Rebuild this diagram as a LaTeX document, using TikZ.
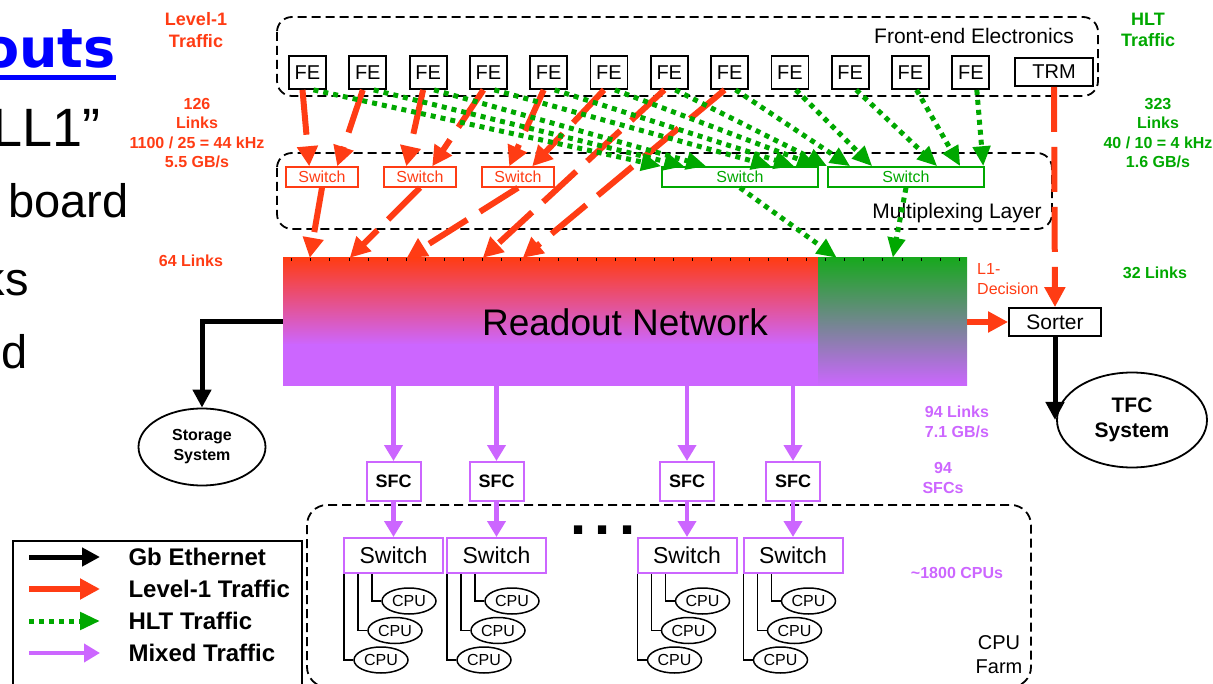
\documentclass[tikz,border=0pt]{standalone}
\usepackage{fontspec}
\setmainfont{Liberation Sans}
\newfontfamily\slidefont{DejaVu Sans}
\usetikzlibrary{arrows.meta}
\usetikzlibrary{calc,positioning}
\usetikzlibrary{shapes.geometric}

\definecolor{lumred}{RGB}{255,60,20}
\definecolor{hltgreen}{RGB}{0,168,0}
\definecolor{ropgreen}{RGB}{24,168,30}
\definecolor{mixpurp}{RGB}{204,102,255}

\begin{document}
\begin{tikzpicture}[x=1pt, y=-1pt,
    grp/.style={line width=1.8pt, dash pattern=on 9pt off 5pt, rounded corners=15pt},
    fe/.style={draw, line width=1.8pt, minimum width=37pt, minimum height=33pt, inner sep=0pt, font=\fontsize{20}{24}\selectfont},
    l1sw/.style={draw=lumred, text=lumred, line width=1.5pt, minimum width=72pt, minimum height=20pt, inner sep=0pt, font=\fontsize{16}{18}\selectfont},
    hltsw/.style={draw=hltgreen, text=hltgreen, line width=1.5pt, minimum width=156pt, minimum height=20pt, inner sep=0pt, font=\fontsize{16}{18}\selectfont},
    sfc/.style={draw=mixpurp, line width=2pt, minimum width=54pt, minimum height=39pt, inner sep=0pt, font=\bfseries\fontsize{18}{20}\selectfont},
    farmsw/.style={draw=mixpurp, line width=2pt, minimum width=99pt, minimum height=35pt, inner sep=0pt, font=\fontsize{23}{26}\selectfont},
    cpu/.style={draw, ellipse, line width=1.5pt, minimum width=54pt, minimum height=26pt, inner sep=0pt, fill=white, font=\fontsize{16}{18}\selectfont},
    oval/.style={draw, ellipse, line width=1.8pt, inner sep=0pt, align=center},
    conn/.style={line width=1.5pt},
    l1/.style={lumred, line width=6pt, dash pattern=on 45pt off 15pt, -{Triangle[length=20pt,width=20pt]}},
    hlt/.style={hltgreen, line width=5pt, dash pattern=on 5pt off 5pt, -{Triangle[length=20pt,width=17pt]}},
    mix/.style={mixpurp, line width=4.5pt, -{Triangle[length=16pt,width=18pt]}},
    gbe/.style={black, line width=5pt, -{Triangle[length=18pt,width=18pt]}},
    lbl/.style={align=center, font=\bfseries\fontsize{16}{19.5}\selectfont},
    biglbl/.style={align=center, font=\bfseries\fontsize{18}{21.5}\selectfont},
    legtxt/.style={anchor=west, font=\bfseries\fontsize{24}{27}\selectfont}]

    \path[use as bounding box, clip] (0,0) rectangle (1213,684);

    % resto do slide
    \node[anchor=base east, text=blue, inner sep=0pt, font=\slidefont\bfseries\fontsize{54}{54}\selectfont] (titulo) at (116,68) {outs};
    \fill[blue] (0,75) rectangle (116,80);
    \node[anchor=base west, inner sep=0pt, font=\fontsize{54}{54}\selectfont] (linha1) at (-8,147) {LL1”};
    \node[anchor=base east, inner sep=0pt, font=\fontsize{47}{47}\selectfont] (linha2) at (129,218) {board};
    \node[anchor=base east, inner sep=0pt, font=\fontsize{47}{47}\selectfont] (linha3) at (29,296) {ks};
    \node[anchor=base east, inner sep=0pt, font=\fontsize{47}{47}\selectfont] (linha4) at (28,369) {d};

    % front-end
    \draw[grp] (277,17) rectangle (1098,96);
    \node[font=\fontsize{21}{24}\selectfont] (felbl) at (974,36) {Front-end Electronics};
    \foreach \i in {1,...,12}
        \node[fe] (fe\i) at ({307.5+60.3*(\i-1)},72.5) {FE};
    \node[fe, minimum width=78pt, minimum height=28pt] (trm) at (1054,72) {TRM};

    % camada de multiplexacao
    \draw[grp] (277,153) rectangle (1052,229);
    \node[font=\fontsize{21}{24}\selectfont] (mplbl) at (957,213) {Multiplexing Layer};
    \node[l1sw] (s1) at (322,177) {Switch};
    \node[l1sw] (s2) at (420,177) {Switch};
    \node[l1sw] (s3) at (518,177) {Switch};
    \node[hltsw] (h1) at (740,177) {Switch};
    \node[hltsw] (h2) at (906,177) {Switch};

    % rede de leitura
    \shade[top color=lumred, bottom color=mixpurp] (283,258) rectangle (818,345);
    \fill[mixpurp] (283,344) rectangle (818,386);
    \shade[top color=ropgreen, bottom color=mixpurp] (818,258) rectangle (967,386);
    \foreach \k in {0,...,35}
        \draw[line width=0.8pt] ({291.7+19.07*\k},258) -- ++(0,3);
    \node[minimum width=684pt, minimum height=128pt, inner sep=0pt, font=\fontsize{37}{40}\selectfont] (readout) at (625,322) {Readout Network};

    \node[draw, line width=1.8pt, minimum width=92pt, minimum height=28pt, inner sep=0pt, font=\fontsize{21}{24}\selectfont] (sorter) at (1055,322) {Sorter};
    \node[oval, minimum width=150pt, minimum height=95pt, font=\bfseries\fontsize{21}{25}\selectfont] (tfc) at (1132,420) {TFC\\System};
    \node[oval, minimum width=127pt, minimum height=77pt, font=\bfseries\fontsize{16}{20}\selectfont] (storage) at (202,447) {Storage\\System};

    % trafego level-1
    \draw[l1] ($(fe1.south)+(-5,0)$) -- ($(s1.north west)+(24,0)$);
    \draw[l1] ($(fe2.south)+(-5,0)$) -- ($(s1.north west)+(52,0)$);
    \draw[l1] ($(fe3.south)+(-5,0)$) -- ($(s2.north west)+(23,0)$);
    \draw[l1] ($(fe4.south)+(-5,0)$) -- ($(s2.north west)+(49,0)$);
    \draw[l1] ($(fe5.south)+(-5,0)$) -- ($(s3.north west)+(28,0)$);
    \draw[l1] ($(fe6.south)+(-5,0)$) -- ($(s3.north west)+(51,0)$);
    \draw[l1] ($(fe7.south)+(-5,0)$) -- ($(readout.north west)+(200,0)$);
    \draw[l1] ($(fe8.south)+(-5,0)$) -- ($(readout.north west)+(240,0)$);
    \draw[l1] (s1.south) -- ($(readout.north west)+(27,0)$);
    \draw[l1] (s2.south) -- ($(readout.north west)+(67,0)$);
    \draw[l1] (s3.south) -- ($(readout.north west)+(124,0)$);
    \draw[l1] (trm.south) -- (sorter.north);
    \draw[l1, solid] (readout.east) -- (sorter.west);
    \node[anchor=north west, align=left, text=lumred, inner sep=0pt, font=\fontsize{16}{20}\selectfont] (l1dec) at (977,263) {L1-\\Decision};

    % trafego HLT
    \foreach \i/\dx in {1/0,2/23,3/45,4/110,5/133,6/156}
        \draw[hlt] ($(fe\i.south)+(6,0)$) -- ($(h1.north west)+(\dx,0)$);
    \foreach \i/\dx in {7/0,8/23,9/45,10/110,11/133,12/156}
        \draw[hlt] ($(fe\i.south)+(6,0)$) -- ($(h2.north west)+(\dx,0)$);
    \draw[hlt] (h1.south) -- ($(readout.north west)+(554,0)$);
    \draw[hlt] (h2.south) -- ($(readout.north west)+(610,0)$);

    % gigabit ethernet
    \draw[gbe] (readout.west) -| (storage.north);
    \draw[gbe] (sorter.south) -- (sorter.south |- tfc.west);

    % fazenda de CPUs
    \draw[grp, rounded corners=20pt] (307,505) rectangle (1031,687);
    \node[align=center, font=\fontsize{20}{24}\selectfont] (farmlbl) at (999,655) {CPU\\Farm};
    \node[font=\bfseries\fontsize{58}{58}\selectfont, inner sep=0pt] (reticencias) at (603,530) {.\kern8.5pt.\kern8.5pt.};
    \foreach \x [count=\i] in {393.5,496.5,687,793} {
        \node[sfc] (sfc\i) at (\x,481.5) {SFC};
        \node[farmsw] (fsw\i) at (\x,555.5) {Switch};
        \node[cpu] (cpua\i) at ({\x+15.5},601) {CPU};
        \node[cpu] (cpub\i) at ({\x+1.5},630.5) {CPU};
        \node[cpu] (cpuc\i) at ({\x-12.5},660) {CPU};
        \draw[conn] ($(fsw\i.south west)+(29,0)$) |- (cpua\i.west);
        \draw[conn] ($(fsw\i.south west)+(15,0)$) |- (cpub\i.west);
        \draw[conn] ($(fsw\i.south west)+(1,0)$) |- (cpuc\i.west);
        \draw[mix] (sfc\i |- readout.south) -- (sfc\i.north);
        \draw[mix] (sfc\i.south) -- (fsw\i.north);
    }

    % rotulos
    \node[biglbl, text=lumred] (l1lbl) at (196,30) {Level-1\\Traffic};
    \node[lbl, text=lumred] (l1rate) at (197,133) {126\\Links\\1100 / 25 = 44 kHz\\5.5 GB/s};
    \node[lbl, text=lumred] (l1links) at (191,261) {64 Links};
    \node[biglbl, text=hltgreen] (hltlbl) at (1148,30) {HLT\\Traffic};
    \node[lbl, text=hltgreen] (hltrate) at (1158,133) {323\\Links\\40 / 10 = 4 kHz\\1.6 GB/s};
    \node[lbl, text=hltgreen] (hltlinks) at (1155,273) {32 Links};
    \node[lbl, text=mixpurp] (mixrate) at (957,422) {94 Links\\7.1 GB/s};
    \node[lbl, text=mixpurp] (sfclbl) at (943,478) {94\\SFCs};
    \node[lbl, text=mixpurp] (cpulbl) at (957,573) {\textasciitilde1800 CPUs};

    % legenda
    \draw[line width=1.5pt] (13,541) rectangle (302,700);
    \draw[gbe] (29,557) coordinate (lg1) -- (100,557) coordinate (lg1e);
    \draw[l1, solid] (29,589) coordinate (lg2) -- (100,589) coordinate (lg2e);
    \draw[hlt] (29,621) coordinate (lg3) -- (100,621) coordinate (lg3e);
    \draw[mix] (29,653) coordinate (lg4) -- (100,653) coordinate (lg4e);
    \node[legtxt] (leg1) at (125,557) {Gb Ethernet};
    \node[legtxt] (leg2) at (125,589) {Level-1 Traffic};
    \node[legtxt] (leg3) at (125,621) {HLT Traffic};
    \node[legtxt] (leg4) at (125,653) {Mixed Traffic};
\end{tikzpicture}
\end{document}
